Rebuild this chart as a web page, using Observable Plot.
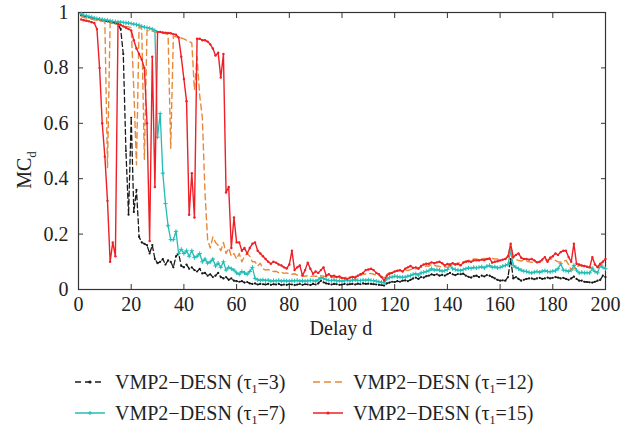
<!DOCTYPE html>
<html><head><meta charset="utf-8">
<script src="https://cdn.jsdelivr.net/npm/d3@7"></script>
<script src="https://cdn.jsdelivr.net/npm/@observablehq/plot@0.6"></script>
<style>
body{margin:0;background:#fff;font-family:"Liberation Serif","DejaVu Serif",serif;}
#wrap{position:relative;width:640px;height:427px;overflow:hidden}
.item{position:absolute;display:flex;align-items:center;white-space:nowrap;font-size:20px;color:#222;line-height:1;font-family:"Liberation Serif","DejaVu Serif",serif}
.item svg{margin-right:10px}
sub{font-size:12px;vertical-align:-4px;line-height:0}
</style></head><body><div id="wrap"></div><script>
// Delay index d = 1..200
const delays = d3.range(1, 201);
const xTicks = [0, 20, 40, 60, 80, 100, 120, 140, 160, 180, 200];
const yTicks = [0, 0.2, 0.4, 0.6, 0.8, 1];
const seriesNames = ["VMP2−DESN (τ1=3)", "VMP2−DESN (τ1=7)", "VMP2−DESN (τ1=12)", "VMP2−DESN (τ1=15)"];

// MC_d, tau1 = 3
const mc3 = [
0.99,0.988,0.985,0.983,0.98,0.978,0.976,0.974,0.972,0.97,
0.968,0.966,0.964,0.962,0.958,0.94,0.85,0.5,0.27,0.62,
0.28,0.36,0.19,0.17,0.165,0.16,0.13,0.16,0.11,0.095,
0.1,0.11,0.09,0.105,0.1,0.08,0.12,0.13,0.085,0.08,
0.09,0.075,0.08,0.07,0.065,0.075,0.058,0.06,0.05,0.055,
0.045,0.05,0.06,0.045,0.04,0.045,0.035,0.04,0.032,0.03,
0.028,0.03,0.025,0.027,0.022,0.02,0.022,0.018,0.02,0.019,
0.018,0.02,0.017,0.019,0.018,0.02,0.016,0.018,0.017,0.019,
0.018,0.016,0.018,0.02,0.017,0.019,0.018,0.016,0.02,0.018,
0.022,0.032,0.026,0.022,0.02,0.018,0.02,0.019,0.017,0.018,
0.02,0.018,0.019,0.02,0.018,0.021,0.019,0.022,0.02,0.021,
0.02,0.019,0.018,0.017,0.016,0.014,0.022,0.025,0.028,0.027,
0.03,0.028,0.032,0.033,0.03,0.035,0.04,0.043,0.038,0.045,
0.043,0.048,0.05,0.055,0.052,0.055,0.05,0.053,0.05,0.055,
0.06,0.055,0.052,0.056,0.055,0.057,0.05,0.046,0.043,0.048,
0.05,0.045,0.05,0.047,0.052,0.05,0.045,0.04,0.035,0.032,
0.033,0.032,0.045,0.11,0.04,0.045,0.038,0.032,0.035,0.038,
0.04,0.04,0.037,0.04,0.042,0.038,0.04,0.043,0.04,0.042,
0.045,0.043,0.04,0.042,0.038,0.035,0.04,0.047,0.038,0.032,
0.032,0.028,0.027,0.026,0.025,0.028,0.032,0.035,0.05,0.045];

// MC_d, tau1 = 7
const mc7 = [
0.995,0.99,0.988,0.985,0.983,0.98,0.978,0.976,0.975,0.973,
0.972,0.97,0.968,0.967,0.966,0.965,0.964,0.963,0.962,0.96,
0.958,0.956,0.954,0.95,0.947,0.945,0.943,0.94,0.935,0.55,
0.635,0.42,0.31,0.23,0.18,0.18,0.21,0.13,0.145,0.13,
0.14,0.12,0.14,0.115,0.12,0.13,0.1,0.11,0.095,0.1,
0.11,0.085,0.095,0.08,0.1,0.07,0.08,0.075,0.07,0.06,
0.055,0.065,0.06,0.055,0.065,0.08,0.04,0.035,0.033,0.035,
0.032,0.034,0.03,0.032,0.031,0.033,0.03,0.032,0.031,0.03,
0.032,0.031,0.033,0.03,0.032,0.03,0.031,0.033,0.032,0.03,
0.035,0.043,0.04,0.036,0.033,0.032,0.034,0.031,0.032,0.03,
0.032,0.033,0.031,0.034,0.035,0.033,0.032,0.034,0.033,0.035,
0.033,0.032,0.03,0.028,0.026,0.024,0.038,0.043,0.045,0.048,
0.046,0.045,0.044,0.045,0.048,0.05,0.055,0.057,0.052,0.06,
0.062,0.065,0.068,0.075,0.07,0.072,0.07,0.066,0.068,0.072,
0.087,0.075,0.072,0.07,0.068,0.072,0.075,0.078,0.076,0.08,
0.078,0.08,0.082,0.078,0.084,0.087,0.08,0.082,0.078,0.08,
0.084,0.087,0.09,0.14,0.087,0.08,0.075,0.07,0.066,0.065,
0.062,0.06,0.063,0.065,0.062,0.066,0.068,0.065,0.064,0.066,
0.068,0.075,0.093,0.07,0.068,0.065,0.07,0.087,0.07,0.06,
0.062,0.06,0.061,0.06,0.075,0.065,0.06,0.087,0.08,0.075];

// MC_d, tau1 = 12
const mc12 = [
0.985,0.982,0.98,0.978,0.976,0.974,0.972,0.97,0.968,0.966,
0.44,0.962,0.96,0.958,0.956,0.954,0.952,0.95,0.948,0.945,
0.72,0.45,0.95,0.94,0.47,0.935,0.935,0.933,0.93,0.93,
0.928,0.926,0.924,0.92,0.51,0.915,0.912,0.91,0.908,0.905,
0.9,0.895,0.89,0.72,0.84,0.7,0.62,0.35,0.18,0.15,
0.19,0.17,0.16,0.14,0.17,0.13,0.15,0.12,0.13,0.11,
0.13,0.1,0.12,0.13,0.12,0.1,0.1,0.085,0.095,0.075,
0.07,0.072,0.068,0.065,0.066,0.06,0.062,0.058,0.06,0.057,
0.055,0.057,0.052,0.054,0.05,0.048,0.05,0.047,0.049,0.048,
0.047,0.05,0.048,0.046,0.045,0.044,0.043,0.045,0.04,0.042,
0.043,0.045,0.044,0.046,0.047,0.05,0.052,0.055,0.056,0.057,
0.058,0.055,0.052,0.05,0.045,0.042,0.055,0.06,0.062,0.065,
0.066,0.068,0.067,0.07,0.068,0.072,0.075,0.074,0.078,0.08,
0.082,0.085,0.084,0.09,0.087,0.085,0.083,0.08,0.082,0.08,
0.085,0.09,0.093,0.095,0.097,0.1,0.102,0.105,0.108,0.11,
0.11,0.108,0.11,0.112,0.11,0.108,0.112,0.11,0.11,0.105,
0.107,0.11,0.12,0.148,0.11,0.108,0.105,0.103,0.105,0.103,
0.1,0.098,0.1,0.097,0.1,0.103,0.105,0.108,0.11,0.11,
0.105,0.1,0.098,0.102,0.105,0.09,0.07,0.075,0.08,0.087,
0.085,0.082,0.08,0.078,0.08,0.082,0.085,0.09,0.093,0.098];

// MC_d, tau1 = 15
const mc15 = [
0.975,0.972,0.97,0.968,0.965,0.962,0.94,0.8,0.6,0.48,
0.32,0.1,0.17,0.12,0.96,0.955,0.95,0.945,0.94,0.935,
0.9,0.87,0.85,0.83,0.8,0.6,0.175,0.84,0.37,0.93,
0.93,0.928,0.927,0.926,0.925,0.922,0.92,0.91,0.84,0.76,
0.68,0.27,0.42,0.26,0.905,0.905,0.9,0.9,0.895,0.885,
0.87,0.845,0.855,0.765,0.85,0.35,0.37,0.15,0.26,0.17,
0.17,0.14,0.15,0.13,0.15,0.165,0.17,0.14,0.13,0.12,
0.11,0.1,0.093,0.1,0.097,0.09,0.087,0.08,0.076,0.09,
0.14,0.07,0.08,0.087,0.05,0.07,0.097,0.075,0.057,0.065,
0.06,0.07,0.08,0.05,0.055,0.048,0.05,0.045,0.047,0.042,
0.04,0.038,0.043,0.045,0.043,0.05,0.055,0.06,0.07,0.072,
0.075,0.07,0.06,0.055,0.045,0.032,0.05,0.057,0.06,0.065,
0.068,0.07,0.065,0.075,0.08,0.085,0.078,0.08,0.075,0.085,
0.09,0.093,0.093,0.098,0.095,0.098,0.1,0.095,0.087,0.092,
0.09,0.095,0.09,0.092,0.087,0.097,0.1,0.102,0.1,0.105,
0.105,0.105,0.108,0.106,0.11,0.112,0.097,0.1,0.102,0.105,
0.108,0.11,0.12,0.165,0.117,0.125,0.13,0.115,0.11,0.11,
0.108,0.11,0.105,0.098,0.1,0.108,0.117,0.1,0.115,0.12,
0.13,0.125,0.135,0.14,0.14,0.117,0.1,0.165,0.093,0.09,
0.087,0.085,0.082,0.08,0.117,0.09,0.08,0.093,0.1,0.11];

const colors = ["#1a1a1a", "#22bdb6", "#e8893a", "#ee1f26"];
const toRows = vals => delays.map((d, i) => ({d, v: vals[i]}));
const r3 = toRows(mc3), r7 = toRows(mc7), r12 = toRows(mc12), r15 = toRows(mc15);

const fontFam = '"Liberation Serif", "DejaVu Serif", serif';
const chart = Plot.plot({
  width: 640, height: 345,
  marginLeft: 78, marginRight: 35, marginTop: 12, marginBottom: 56,
  style: {fontFamily: fontFam, fontSize: "20px", color: "#222", background: "#fff"},
  x: {domain: [0, 200], label: null},
  y: {domain: [0, 1], label: null},
  marks: [
    Plot.frame({stroke: "#333", strokeWidth: 1.2}),
    Plot.axisX({anchor: "bottom", ticks: xTicks, tickSize: -5, tickPadding: 12, label: null, tickFormat: d => String(d), stroke: "#333", fontFamily: fontFam}),
    Plot.axisX({anchor: "top", ticks: xTicks, tickSize: -5, tickFormat: () => "", label: null, stroke: "#333"}),
    Plot.axisY({anchor: "left", ticks: yTicks, tickSize: -5, tickPadding: 15, label: null, tickFormat: d => String(d), stroke: "#333", fontFamily: fontFam}),
    Plot.axisY({anchor: "right", ticks: yTicks, tickSize: -5, tickFormat: () => "", label: null, stroke: "#333"}),
    Plot.line(r3, {x: "d", y: "v", stroke: colors[0], strokeWidth: 1.3, strokeDasharray: "5,3"}),
    Plot.dot(r3, {x: "d", y: "v", r: 1.1, fill: colors[0]}),
    Plot.line(r7, {x: "d", y: "v", stroke: colors[1], strokeWidth: 1.3}),
    Plot.dot(r7, {x: "d", y: "v", r: 1.5, symbol: "plus", stroke: colors[1], strokeWidth: 1}),
    Plot.line(r12, {x: "d", y: "v", stroke: colors[2], strokeWidth: 1.4, strokeDasharray: "6,4"}),
    Plot.line(r15, {x: "d", y: "v", stroke: colors[3], strokeWidth: 1.4}),
    Plot.dot(r15, {x: "d", y: "v", r: 1.2, fill: colors[3]})
  ]
});
chart.style.position = "absolute";
chart.style.left = "0px";
chart.style.top = "0px";
const wrap = document.getElementById("wrap");
wrap.appendChild(chart);

// axis titles
const svg = d3.select(chart);
svg.append("text").attr("x", 341).attr("y", 335).attr("text-anchor", "middle")
  .attr("font-family", fontFam).attr("font-size", 20).attr("fill", "#222").text("Delay d");
const yl = svg.append("text").attr("transform", "translate(31,170) rotate(-90)").attr("text-anchor", "middle")
  .attr("font-family", fontFam).attr("font-size", 20).attr("fill", "#222");
yl.append("tspan").text("MC");
yl.append("tspan").attr("font-size", 13).attr("dy", 5).text("d");

// legend
const legendPos = [[75, 382], [75, 413], [313, 382], [313, 413]];
const styles = [
  {dash: "6,4", marker: "dot"},
  {dash: null, marker: "plus"},
  {dash: "7,4", marker: null},
  {dash: null, marker: "dot"}
];
seriesNames.forEach((name, i) => {
  const it = document.createElement("div");
  it.className = "item";
  it.style.left = legendPos[i][0] + "px";
  it.style.top = (legendPos[i][1] - 10) + "px";
  const s = d3.create("svg").attr("width", 30).attr("height", 12);
  s.append("line").attr("x1", 0).attr("x2", 30).attr("y1", 6).attr("y2", 6)
    .attr("stroke", colors[i]).attr("stroke-width", 1.5)
    .attr("stroke-dasharray", styles[i].dash);
  if (styles[i].marker === "dot") s.append("circle").attr("cx", 15).attr("cy", 6).attr("r", 1.6).attr("fill", colors[i]);
  if (styles[i].marker === "plus") s.append("path").attr("d", "M13,6H17M15,4V8").attr("stroke", colors[i]).attr("stroke-width", 1);
  it.appendChild(s.node());
  const label = document.createElement("span");
  const m = name.match(/^(.*τ)1(=.*)$/);
  label.innerHTML = m[1] + "<sub>1</sub>" + m[2];
  it.appendChild(label);
  wrap.appendChild(it);
});
</script></body></html>
